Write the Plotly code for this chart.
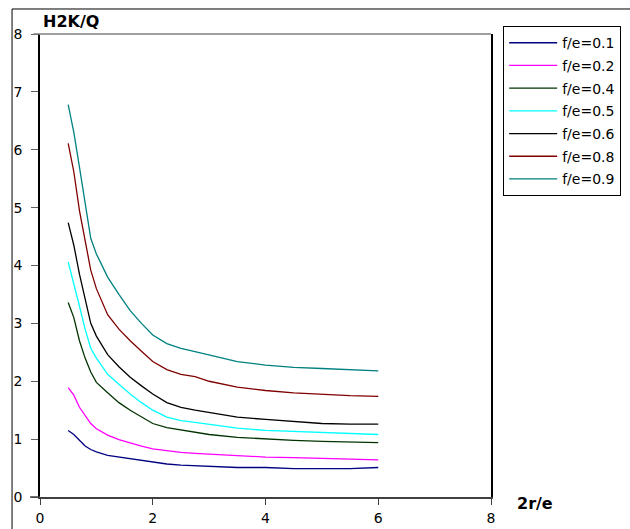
import plotly.graph_objects as go

x_vals = [0.5, 0.6, 0.7, 0.8, 0.9, 1.0, 1.2, 1.4, 1.6, 1.8, 2.0, 2.25, 2.5, 2.75, 3.0, 3.5, 4.0, 4.5, 5.0, 5.5, 6.0]

fe_01 = [1.15, 1.08, 0.98, 0.88, 0.82, 0.78, 0.72, 0.69, 0.67, 0.64, 0.60, 0.57, 0.55, 0.54, 0.53, 0.51, 0.51, 0.49, 0.49, 0.49, 0.51]
fe_02 = [1.89, 1.76, 1.55, 1.40, 1.27, 1.18, 1.07, 0.99, 0.93, 0.88, 0.83, 0.80, 0.77, 0.755, 0.74, 0.71, 0.69, 0.68, 0.67, 0.65, 0.64]
fe_04 = [3.36, 3.10, 2.70, 2.40, 2.16, 1.98, 1.80, 1.63, 1.50, 1.38, 1.27, 1.20, 1.16, 1.12, 1.08, 1.03, 1.00, 0.98, 0.96, 0.95, 0.94]
fe_05 = [4.06, 3.70, 3.30, 2.90, 2.57, 2.40, 2.12, 1.95, 1.78, 1.63, 1.50, 1.38, 1.32, 1.29, 1.26, 1.19, 1.15, 1.13, 1.11, 1.09, 1.08]
fe_06 = [4.74, 4.35, 3.85, 3.40, 3.00, 2.78, 2.46, 2.25, 2.07, 1.92, 1.78, 1.63, 1.55, 1.50, 1.46, 1.38, 1.34, 1.30, 1.27, 1.26, 1.26]
fe_08 = [6.11, 5.62, 4.95, 4.40, 3.92, 3.60, 3.15, 2.90, 2.70, 2.52, 2.34, 2.20, 2.12, 2.08, 2.00, 1.90, 1.84, 1.80, 1.77, 1.75, 1.74]
fe_09 = [6.78, 6.30, 5.70, 5.05, 4.47, 4.20, 3.80, 3.50, 3.22, 3.00, 2.80, 2.65, 2.57, 2.51, 2.45, 2.34, 2.28, 2.24, 2.22, 2.20, 2.18]

series_names = ["f/e=0.1", "f/e=0.2", "f/e=0.4", "f/e=0.5", "f/e=0.6", "f/e=0.8", "f/e=0.9"]
series_values = [fe_01, fe_02, fe_04, fe_05, fe_06, fe_08, fe_09]
series_colors = ["#000080", "#FF00FF", "#003300", "#00FFFF", "#000000", "#800000", "#008080"]

y_title = "H2K/Q"
x_title = "2r/e"
tick_vals = [0, 2, 4, 6, 8]
ytick_vals = [0, 1, 2, 3, 4, 5, 6, 7, 8]

FONT = "DejaVu Sans, Arial, sans-serif"

fig = go.Figure()
for i, (name, vals, col) in enumerate(zip(series_names, series_values, series_colors)):
    fig.add_trace(go.Scatter(x=x_vals, y=vals, mode="lines", name=name,
                             legendgroup=f"g{i}",
                             line=dict(color=col, width=1.3)))

fig.update_layout(
    width=630, height=529,
    margin=dict(l=40, r=139, t=34, b=32, autoexpand=False),
    paper_bgcolor="white", plot_bgcolor="white",
    font=dict(family=FONT, size=14, color="black"),
    showlegend=True,
    legend=dict(x=1.027, y=1.017, xanchor="left", yanchor="top",
                bordercolor="black", borderwidth=1, bgcolor="white",
                font=dict(family=FONT, size=14, color="black"),
                tracegroupgap=1.5, itemwidth=48),
    xaxis=dict(range=[0, 8], tickvals=tick_vals, showgrid=False, zeroline=False,
               showline=True, linecolor="#404040", linewidth=1.5, automargin=False,
               ticks="outside", ticklen=6, tickcolor="#404040",
               tickfont=dict(family=FONT, size=14), ticklabelstandoff=1),
    yaxis=dict(range=[0, 8], tickvals=ytick_vals, showgrid=False, zeroline=False,
               showline=True, linecolor="black", linewidth=1.5, mirror=True, automargin=False,
               ticks="outside", ticklen=7, tickcolor="#606060",
               tickfont=dict(family=FONT, size=14), ticklabelstandoff=6),
    shapes=[
        dict(type="line", xref="paper", yref="paper", x0=-0.015, x1=1.0, y0=1.0, y1=1.0,
             line=dict(color="#808080", width=1.5)),
        dict(type="line", xref="paper", yref="paper", x0=-0.022, x1=0.0, y0=0.0, y1=0.0,
             line=dict(color="#404040", width=1.5)),
        dict(type="rect", xref="paper", yref="paper", x0=-0.062, x1=1.45, y0=-0.1, y1=1.054,
             line=dict(color="black", width=1), fillcolor="rgba(0,0,0,0)", layer="below"),
    ],
    annotations=[
        dict(text="<b>" + y_title + "</b>", xref="paper", yref="paper", x=0.003, y=1.027,
             xanchor="left", yanchor="middle", showarrow=False,
             font=dict(family=FONT, size=16, color="black")),
        dict(text="<b>" + x_title + "</b>", xref="paper", yref="paper", x=1.053, y=-0.013,
             xanchor="left", yanchor="middle", showarrow=False,
             font=dict(family=FONT, size=16, color="black")),
    ],
)

fig.write_html("out.html")
